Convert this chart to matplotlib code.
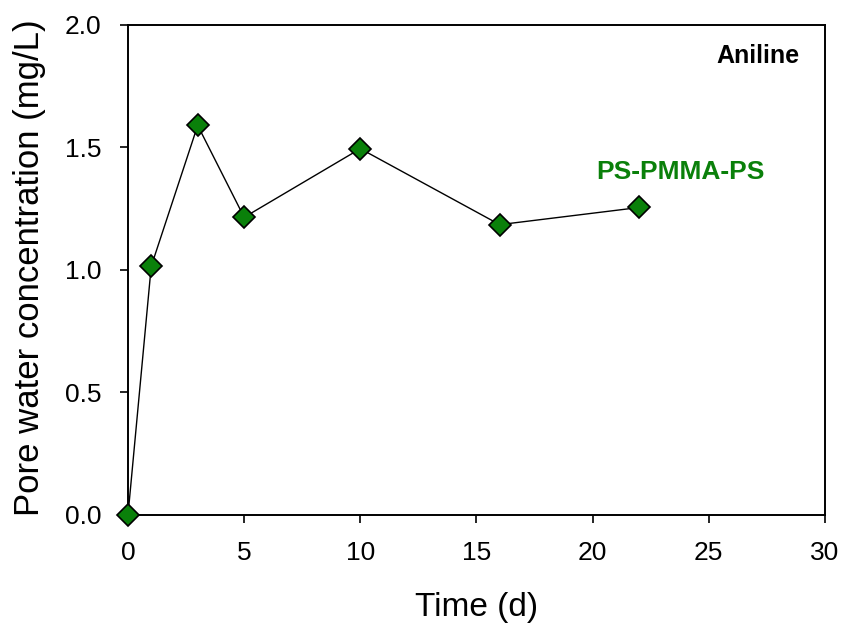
import matplotlib.pyplot as plt

plt.rcParams['font.family'] = ['Liberation Sans', 'DejaVu Sans']

# aniline pore water concentration over time
time_d = [0, 1, 3, 5, 10, 16, 22]
conc = [0.0, 1.015, 1.59, 1.215, 1.495, 1.185, 1.255]

fig = plt.figure(figsize=(8.46, 6.24), dpi=100)
ax = fig.add_axes([0.1513, 0.1747, 0.8238, 0.7853])

ax.plot(time_d, conc, color='black', linewidth=1, marker='D', markersize=11,
        markerfacecolor='#0a800a', markeredgecolor='black', markeredgewidth=1.2,
        clip_on=False, zorder=3)

ax.set_xlim(0, 30)
ax.set_ylim(0, 2.0)
ax.set_xticks([0, 5, 10, 15, 20, 25, 30])
ax.set_yticks([0.0, 0.5, 1.0, 1.5, 2.0])
ax.set_yticklabels(['0.0', '0.5', '1.0', '1.5', '2.0'])
ax.tick_params(direction='out', length=6, width=1.2, labelsize=19, pad=13)
for s in ax.spines.values():
    s.set_linewidth(1.4)

ax.set_xlabel('Time (d)', fontsize=24)
ax.set_ylabel('Pore water concentration (mg/L)', fontsize=25)
ax.xaxis.set_label_coords(0.5, -0.158)
ax.yaxis.set_label_coords(-0.118, 0.505)

ax.text(27.1, 1.875, 'Aniline', fontsize=18, fontweight='bold', ha='center', va='center')
ax.text(23.76, 1.398, 'PS-PMMA-PS', fontsize=19, fontweight='bold', color='#0a800a',
        ha='center', va='center')

fig.savefig('out.png', dpi=100)
